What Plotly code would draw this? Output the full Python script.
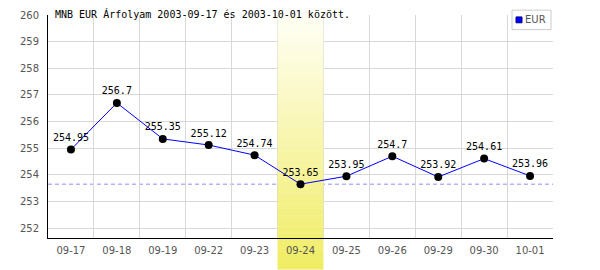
import plotly.graph_objects as go

# ---- data ----
dates = ["09-17", "09-18", "09-19", "09-22", "09-23", "09-24",
         "09-25", "09-26", "09-29", "09-30", "10-01"]
eur_values = [254.95, 256.7, 255.35, 255.12, 254.74, 253.65,
              253.95, 254.7, 253.92, 254.61, 253.96]
value_labels = ["254.95", "256.7", "255.35", "255.12", "254.74", "253.65",
                "253.95", "254.7", "253.92", "254.61", "253.96"]
y_ticks = [252, 253, 254, 255, 256, 257, 258, 259, 260]
highlight_date = "09-24"
series_name = "EUR"
title_text = "MNB EUR Árfolyam 2003-09-17 és 2003-10-01 között."

# ---- layout geometry ----
W, H = 600, 270
ML, MR, MT, MB = 48, 47, 9, 32
PW, PH = W - ML - MR, H - MT - MB
Y_MIN, Y_MAX = 251.63, 260


def px_x(p):
    return (p - ML) / PW


def px_y(p):
    return (H - MB - p) / PH


fig = go.Figure()

fig.add_trace(go.Scatter(
    x=dates, y=eur_values, mode="lines+markers+text",
    text=value_labels, textposition="top center",
    textfont=dict(family="DejaVu Sans Mono", size=10, color="#000000"),
    line=dict(color="#0000ff", width=1),
    marker=dict(color="#000000", size=8),
    cliponaxis=False, showlegend=False, hoverinfo="skip",
))

shapes = []
# dashed minimum line
min_val = min(eur_values)
shapes.append(dict(type="line", xref="paper", yref="y", x0=0, x1=1,
                   y0=min_val, y1=min_val, layer="between",
                   line=dict(color="#8f8fff", width=1, dash="4px,3px")))

# gradient highlight band
idx = dates.index(highlight_date)
top_c = (255, 255, 246)
bot_c = (240, 236, 98)
n_in, n_out = 40, 6
bottom_paper = px_y(H)
total = 1 - bottom_paper


def col(p):
    t = (1 - p) / total
    c = [round(a + (b - a) * t) for a, b in zip(top_c, bot_c)]
    return "rgb(%d,%d,%d)" % tuple(c)


for i in range(n_in):
    p1 = 1 - i / n_in
    p0 = 1 - (i + 1) / n_in
    y0 = Y_MIN + p0 * (Y_MAX - Y_MIN)
    y1 = Y_MIN + p1 * (Y_MAX - Y_MIN) + 0.01
    shapes.append(dict(type="rect", xref="x", yref="y", x0=idx - 0.5, x1=idx + 0.5,
                       y0=y0, y1=y1, layer="between", line=dict(width=0),
                       fillcolor=col((p0 + p1) / 2)))
for i in range(n_out):
    p1 = -i * (-bottom_paper) / n_out
    p0 = -(i + 1) * (-bottom_paper) / n_out
    shapes.append(dict(type="rect", xref="x", yref="paper", x0=idx - 0.5, x1=idx + 0.5,
                       y0=p0 - 0.002, y1=p1, layer="below", line=dict(width=0),
                       fillcolor=col((p0 + p1) / 2)))

# legend box
shapes.append(dict(type="rect", xref="paper", yref="paper",
                   x0=px_x(512), x1=px_x(551), y0=px_y(24), y1=px_y(4),
                   line=dict(color="#cccccc", width=1), fillcolor="#ffffff", layer="above"))
shapes.append(dict(type="rect", xref="paper", yref="paper",
                   x0=px_x(516), x1=px_x(522), y0=px_y(17), y1=px_y(11),
                   line=dict(color="#000080", width=1), fillcolor="#0000ff", layer="above"))

annotations = [
    dict(text=title_text, xref="paper", yref="paper", x=px_x(53), y=px_y(8),
         xanchor="left", yanchor="middle", showarrow=False,
         font=dict(family="DejaVu Sans Mono", size=10, color="#000000")),
    dict(text=series_name, xref="paper", yref="paper", x=px_x(523), y=px_y(14),
         xanchor="left", yanchor="middle", showarrow=False,
         font=dict(family="DejaVu Sans", size=10, color="#555555")),
]

fig.update_layout(
    width=W, height=H,
    margin=dict(l=ML, r=MR, t=MT, b=MB, pad=0),
    paper_bgcolor="#ffffff", plot_bgcolor="#ffffff",
    shapes=shapes, annotations=annotations,
    showlegend=False,
    font=dict(family="DejaVu Sans", size=10, color="#555555"),
)
fig.update_xaxes(
    type="category", categoryorder="array", categoryarray=dates,
    range=[-0.5, len(dates) - 0.5], tickson="boundaries",
    showgrid=True, gridcolor="#d8d8d8", gridwidth=1,
    showline=True, linecolor="#000000", linewidth=1,
    ticks="", ticklabelstandoff=3, zeroline=False, fixedrange=True,
)
fig.update_yaxes(
    range=[Y_MIN, Y_MAX], tickvals=y_ticks, ticktext=[str(v) for v in y_ticks],
    showgrid=True, gridcolor="#d8d8d8", gridwidth=1,
    showline=True, linecolor="#000000", linewidth=1,
    ticks="", ticklabelstandoff=6, zeroline=False, fixedrange=True,
)

fig.write_html("out.html", config={"displayModeBar": False})
